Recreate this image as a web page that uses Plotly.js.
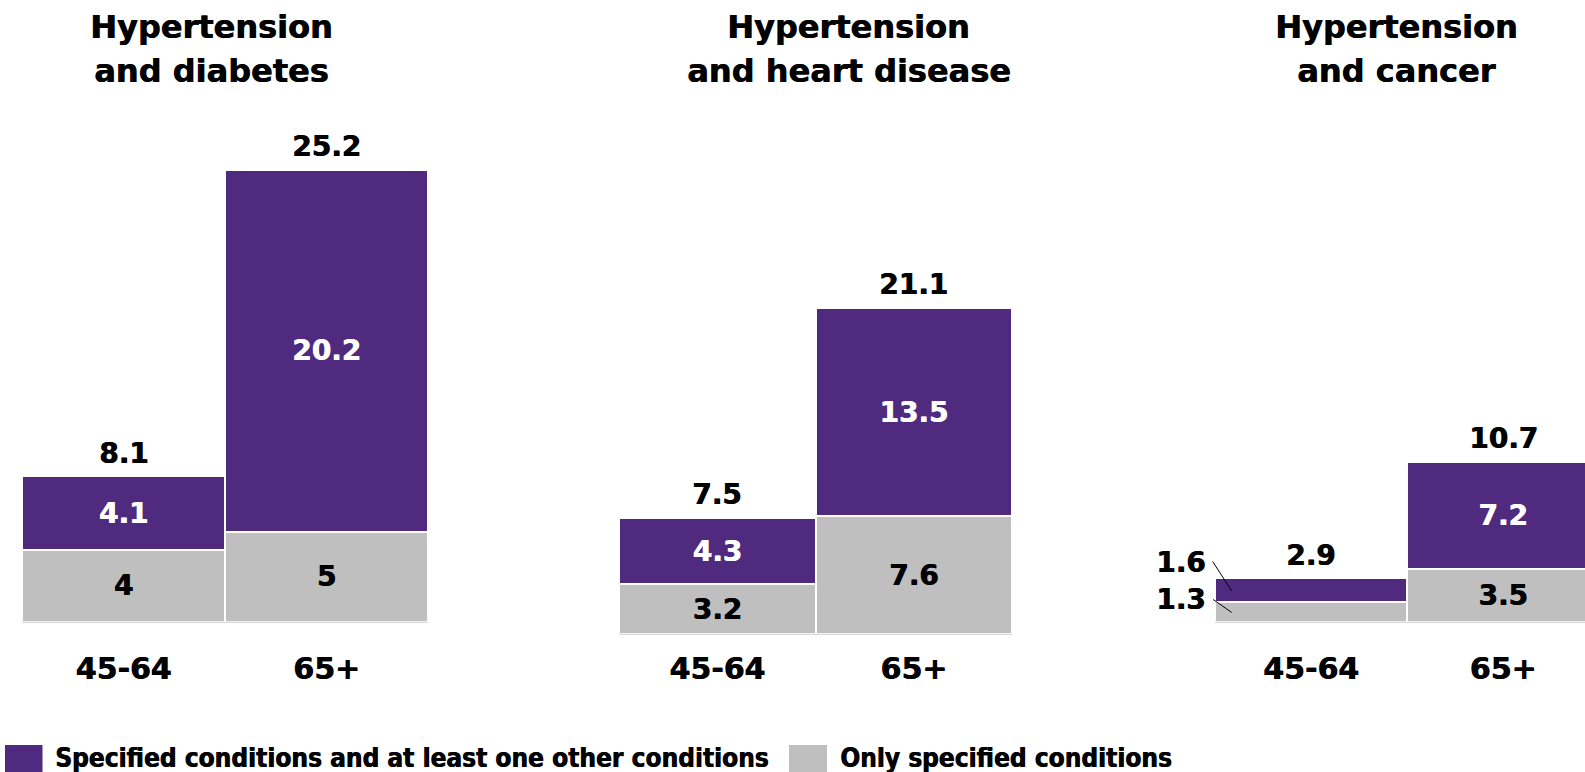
<!DOCTYPE html>
<html>
<head>
<meta charset="utf-8">
<script src="https://cdn.plot.ly/plotly-3.0.1.min.js"></script>
<style>
  html, body { margin: 0; padding: 0; background: #fff; }
  #chart { width: 1585px; height: 772px; }
</style>
</head>
<body>
<div id="chart"></div>
<script>
const CATEGORIES = ['45-64', '65+'];
const PANEL_TITLES = [
  ['Hypertension', 'and diabetes'],
  ['Hypertension', 'and heart disease'],
  ['Hypertension', 'and cancer'],
];
const ONLY_SPECIFIED = [[4, 5], [3.2, 7.6], [1.3, 3.5]];
const WITH_OTHER = [[4.1, 20.2], [4.3, 13.5], [1.6, 7.2]];
const TOTALS = [[8.1, 25.2], [7.5, 21.1], [2.9, 10.7]];
const SERIES_NAMES = ['Specified conditions and at least one other conditions', 'Only specified conditions'];

const PURPLE = '#4F2A7F';
const GREY = '#BFBFBF';
const W = 1585, H = 772;
const FONT = 'Verdana, "DejaVu Sans", sans-serif';
const LEGEND_FONT = '"DejaVu Sans Condensed", "Liberation Sans Narrow", "DejaVu Sans", sans-serif';
// a touch of faux-bold, the original uses a heavier face than DejaVu Sans Bold
const heavy = c => '0.7px 0 0 ' + c;

// where each panel sits, in pixels: plot left/right, width of one category,
// baseline, pixels per unit of value, title centre
const PANELS = [
  { left: 22, cat: 203, right: 428, base: 621.6, ppu: 17.93, titleX: 211, standoff: 20 },
  { left: 619, cat: 196.5, right: 1012, base: 633.8, ppu: 15.45, titleX: 849, standoff: 8 },
  { left: 1215, cat: 192, right: 1585, base: 621.6, ppu: 14.92, titleX: 1396, standoff: 20 },
];
const TOP = 100;
const MIN_INSIDE = 30; // segments shorter than this get a callout label

const traces = [];
const annotations = [];
const layout = {
  width: W, height: H,
  margin: { l: 0, r: 0, t: 0, b: 0 },
  barmode: 'stack',
  bargap: 0,
  showlegend: false,
  paper_bgcolor: '#fff',
  plot_bgcolor: '#fff',
  font: { family: FONT, color: '#000' },
  annotations: annotations,
  shapes: [],
};

PANELS.forEach((p, i) => {
  const sfx = i === 0 ? '' : String(i + 1);
  const xName = 'x' + sfx, yName = 'y' + sfx;

  layout['xaxis' + sfx] = {
    domain: [p.left / W, p.right / W],
    range: [-0.5, -0.5 + (p.right - p.left) / p.cat],
    type: 'category',
    anchor: yName,
    showgrid: false,
    zeroline: false,
    showline: true,
    linecolor: '#d9d9d9',
    linewidth: 1,
    ticks: '',
    ticklabelstandoff: p.standoff,
    tickfont: { size: 30, weight: 'bold', family: FONT, shadow: heavy('#000') },
    fixedrange: true,
  };
  layout['yaxis' + sfx] = {
    domain: [(H - p.base) / H, (H - TOP) / H],
    range: [0, (p.base - TOP) / p.ppu],
    anchor: xName,
    visible: false,
    fixedrange: true,
  };

  const series = [
    { vals: ONLY_SPECIFIED[i], name: SERIES_NAMES[1], color: GREY, txt: '#000' },
    { vals: WITH_OTHER[i], name: SERIES_NAMES[0], color: PURPLE, txt: '#fff' },
  ];
  series.forEach((s, k) => {
    traces.push({
      type: 'bar',
      name: s.name,
      x: CATEGORIES,
      y: s.vals,
      xaxis: xName,
      yaxis: yName,
      marker: { color: s.color, line: { color: '#fff', width: 2 } },
      text: s.vals.map(v => (v * p.ppu >= MIN_INSIDE ? String(v) : '')),
      textposition: 'inside',
      insidetextanchor: 'middle',
      textangle: 0,
      constraintext: 'none',
      textfont: { size: 28, weight: 'bold', color: s.txt, family: FONT, shadow: heavy(s.txt) },
      hoverinfo: 'skip',
    });
    // callouts for the thin segments: a leader line, then the value beside it
    s.vals.forEach((v, j) => {
      if (v * p.ppu >= MIN_INSIDE) return;
      const below = k === 0 ? 0 : ONLY_SPECIFIED[i][j];
      const tipX = j - 0.413;
      const tipY = below + v * 0.47;
      annotations.push({
        xref: xName, yref: yName,
        x: tipX, y: tipY,
        text: '',
        showarrow: true,
        arrowhead: 0,
        arrowwidth: 1,
        arrowcolor: '#000',
        standoff: 0,
        ax: -20,
        ay: k === 0 ? -14 : -31,
      });
      annotations.push({
        xref: xName, yref: yName,
        x: tipX, y: tipY,
        text: String(v),
        showarrow: false,
        xshift: -51,
        yshift: k === 0 ? 13 : 28,
        font: { size: 28, weight: 'bold', family: FONT, shadow: heavy('#000') },
      });
    });
  });

  // totals above each bar
  TOTALS[i].forEach((t, j) => {
    annotations.push({
      xref: xName, yref: yName,
      x: j, y: t,
      text: String(t),
      showarrow: false,
      yanchor: 'middle',
      yshift: 23,
      font: { size: 28, weight: 'bold', family: FONT, shadow: heavy('#000') },
    });
  });

  // panel title, two lines
  PANEL_TITLES[i].forEach((line, n) => {
    annotations.push({
      xref: 'paper', yref: 'paper',
      x: p.titleX / W, y: 1 - [27.3, 70.8][n] / H,
      xanchor: 'center', yanchor: 'middle',
      text: line,
      showarrow: false,
      font: { size: 32, weight: 'bold', family: FONT, shadow: heavy('#000') },
    });
  });
});

// legend drawn by hand so the swatches can be as large as in the original
const legendItems = [
  { name: SERIES_NAMES[0], color: PURPLE, x0: 5, x1: 42.5, tx: 52.6 },
  { name: SERIES_NAMES[1], color: GREY, x0: 789, x1: 827, tx: 838 },
];
legendItems.forEach(it => {
  layout.shapes.push({
    type: 'rect', xref: 'paper', yref: 'paper',
    x0: it.x0 / W, x1: it.x1 / W, y0: 0, y1: (H - 745) / H,
    fillcolor: it.color, line: { width: 0 },
  });
  annotations.push({
    xref: 'paper', yref: 'paper',
    x: it.tx / W, y: 1 - 758 / H,
    xanchor: 'left', yanchor: 'middle',
    text: it.name,
    showarrow: false,
    font: { size: 26, weight: 'bold', family: LEGEND_FONT, shadow: heavy('#000') },
  });
});

Plotly.newPlot('chart', traces, layout, { displayModeBar: false, staticPlot: true });
</script>
</body>
</html>
